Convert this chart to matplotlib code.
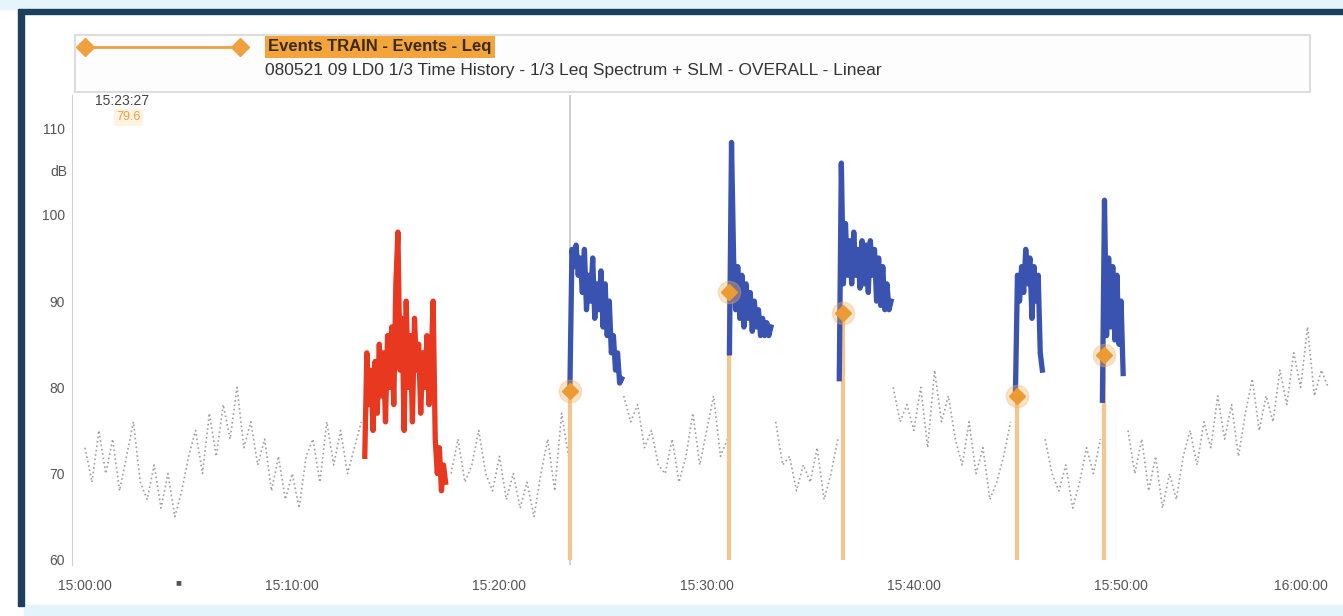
import numpy as np
import matplotlib.pyplot as plt
from matplotlib.patches import Rectangle

nan = np.nan

# overall Leq, one value every 20 s from 15:00:00 (minutes after 15:00), gaps where an event is drawn
overall_step = 1 / 3
overall_leq = [
    73, 69, 75,  70, 74, 68,  72, 76, 69,  67, 71, 66,  70, 65, 68,
    72, 75, 70,  77, 72, 78,  74, 80, 73,  76, 71, 74,  68, 72, 67,
    70, 66, 72,  74, 69, 76,  71, 75, 70,  73, 76, nan, nan, nan, nan,
    nan, nan, nan, nan, nan, nan, nan, nan, 70,  74, 69, 71,  75, 70, 68,
    72, 67, 70,  66, 69, 65,  70, 74, 68,  77, 72, nan, nan, nan, nan,
    nan, nan, nan, 79, 76, 78,  73, 75, 71,  70, 74, 69,  72, 77, 71,
    75, 79, 72,  74, nan, nan, nan, nan, nan, nan, 76, 71,  72, 68, 71,
    69, 73, 67,  70, 74, nan, nan, nan, nan, nan, nan, nan, 80, 76, 78,
    75, 80, 73,  82, 76, 79,  74, 71, 76,  70, 73, 67,  69, 72, 76,
    nan, nan, nan, nan, 74, 70,  68, 71, 66,  69, 73, 70,  74, nan, nan,
    nan, 75, 70,  74, 68, 72,  66, 70, 67,  72, 75, 71,  76, 73, 79,
    74, 78, 72,  77, 81, 75,  79, 76, 82,  78, 84, 80,  87, 79, 82,  80,
]

# events, one value every 6 s
event_step = 0.1
red_start = 13.5
red_leq = [72, 84, 78, 82, 75, 83, 77, 85, 79, 84, 76, 86, 80, 87, 78, 92, 98, 82, 88, 75,
           90, 80, 86, 76, 88, 82, 85, 77, 84, 80, 86, 78, 83, 90, 74, 70, 73, 68, 71, 69]
blue_starts = [23.4, 31.1, 36.4, 44.9, 49.1]
blue_leq = [
    [80, 96, 94, 96.5, 93, 95, 91, 96, 89, 93, 90, 95, 88, 92, 89, 93.5, 87, 92, 86, 90,
     84, 86, 82, 84, 80.5, 81],
    [84, 108.4, 95, 89, 94, 88, 93, 87, 92, 88, 91, 86.5, 90, 87, 89, 86, 88, 86, 87.5, 86, 87],
    [81, 106, 92, 99, 93, 97, 92, 98, 93, 96, 91.5, 97, 92, 96.5, 91, 97, 93, 96, 90, 95,
     89.5, 94, 89, 92, 89, 90],
    [79, 93, 90, 94, 91, 96, 92, 95, 88, 94, 90, 93, 84, 82],
    [78.5, 101.7, 86, 95, 87, 94, 85.5, 93, 85, 90, 81.6],
]

marker_times = [23.4, 31.1, 36.6, 45.0, 49.2]
marker_leq = [79.6, 91.0, 88.6, 79.0, 83.7]

cursor_time = 23.4
cursor_text = '15:23:27'
cursor_value = '79.6'

x_ticks = [0, 10, 20, 30, 40, 50, 60]
x_labels = ['15:00:00', '15:10:00', '15:20:00', '15:30:00', '15:40:00', '15:50:00', '16:00:00']
y_ticks = [60, 70, 80, 90, 100, 110]

legend_event = 'Events TRAIN - Events - Leq'
legend_trace = '080521 09 LD0 1/3 Time History - 1/3 Leq Spectrum + SLM - OVERALL - Linear'

plt.rcParams['font.family'] = ['Liberation Sans', 'DejaVu Sans']

fig = plt.figure(figsize=(13.43, 6.16), dpi=100)
W, H = 1343, 616

# screenshot frame
fig.patches.append(Rectangle((0, 1 - 9 / H), 1, 9 / H, transform=fig.transFigure, color='#e6f5fb', zorder=0))
fig.patches.append(Rectangle((18 / W, 1 - 14 / H), 1, 5 / H, transform=fig.transFigure, color='#1d3f5e', zorder=1))
fig.patches.append(Rectangle((18 / W, 10 / H), 6 / W, 1 - 24 / H, transform=fig.transFigure, color='#1d3f5e', zorder=1))
fig.patches.append(Rectangle((24 / W, 0), 1, 11 / H, transform=fig.transFigure, color='#e3f4fb', zorder=0))

ax = fig.add_axes([72 / W, 51 / H, 1266 / W, 470 / H])
ax.set_xlim(-0.63, 60.47)
ax.set_ylim(59.4, 113.9)

t_overall = np.arange(len(overall_leq)) * overall_step
ax.plot(t_overall, overall_leq, color='#a0a0a0', lw=1.2, ls=':', zorder=2)

# event markers with their drop lines
ax.vlines(marker_times, 60, marker_leq, color='#f6c48e', lw=3, zorder=3)
ax.axvline(cursor_time, color='#c8c8c8', lw=1.2, zorder=1)

t_red = red_start + np.arange(len(red_leq)) * event_step
ax.plot(t_red, red_leq, color='#e8381f', lw=3.8, zorder=4)
for start, vals in zip(blue_starts, blue_leq):
    t = start + np.arange(len(vals)) * event_step
    ax.plot(t, vals, color='#3a53b0', lw=3.8, zorder=4)

ax.plot(marker_times, marker_leq, 'o', color='#f5b060', ms=16, alpha=0.35, zorder=5)
ax.plot(marker_times, marker_leq, 'D', color='#ee9a33', ms=8, zorder=6)

ax.set_xticks(x_ticks, x_labels)
ax.set_yticks(y_ticks)
ax.tick_params(length=0, labelsize=10, colors='#555555')
ax.tick_params(axis='x', pad=10)
ax.tick_params(axis='y', pad=5)
ax.get_xticklabels()[-1].set_horizontalalignment('right')
for s in ['top', 'right', 'bottom']:
    ax.spines[s].set_visible(False)
ax.spines['left'].set_color('#d0d0d0')
ax.text(-0.85, 105, 'dB', ha='right', va='center', fontsize=10, color='#555555')
fig.text(178 / W, 1 - 582 / H, '■', ha='center', va='center', fontsize=7, color='#555555')

# legend box
fig.patches.append(Rectangle((75 / W, 1 - 92 / H), 1235 / W, 57 / H, transform=fig.transFigure,
                             facecolor='#fdfdfd', edgecolor='#dddddd', lw=1.5, zorder=2))
fig.add_artist(plt.Line2D([85 / W, 240 / W], [1 - 47 / H, 1 - 47 / H], color='#f0a040', lw=2,
                          marker='D', ms=9, markerfacecolor='#f0a040', transform=fig.transFigure,
                          zorder=6))
fig.text(268 / W, 1 - 47 / H, legend_event, fontsize=12, fontweight='bold', color='#3a2a10',
         va='center', zorder=6, bbox=dict(boxstyle='square,pad=0.2', fc='#f3a43a', ec='none'))
fig.text(265 / W, 1 - 70 / H, legend_trace, fontsize=12.5, color='#333333', va='center', zorder=6)

# cursor readout
fig.text(95 / W, 1 - 101 / H, cursor_text, fontsize=10, color='#444444', va='center')
fig.text(116 / W, 1 - 117 / H, cursor_value, fontsize=9, color='#f0a040', va='center',
         bbox=dict(boxstyle='square,pad=0.2', fc='#fff3e2', ec='none'))

fig.savefig('out.png', dpi=100)
